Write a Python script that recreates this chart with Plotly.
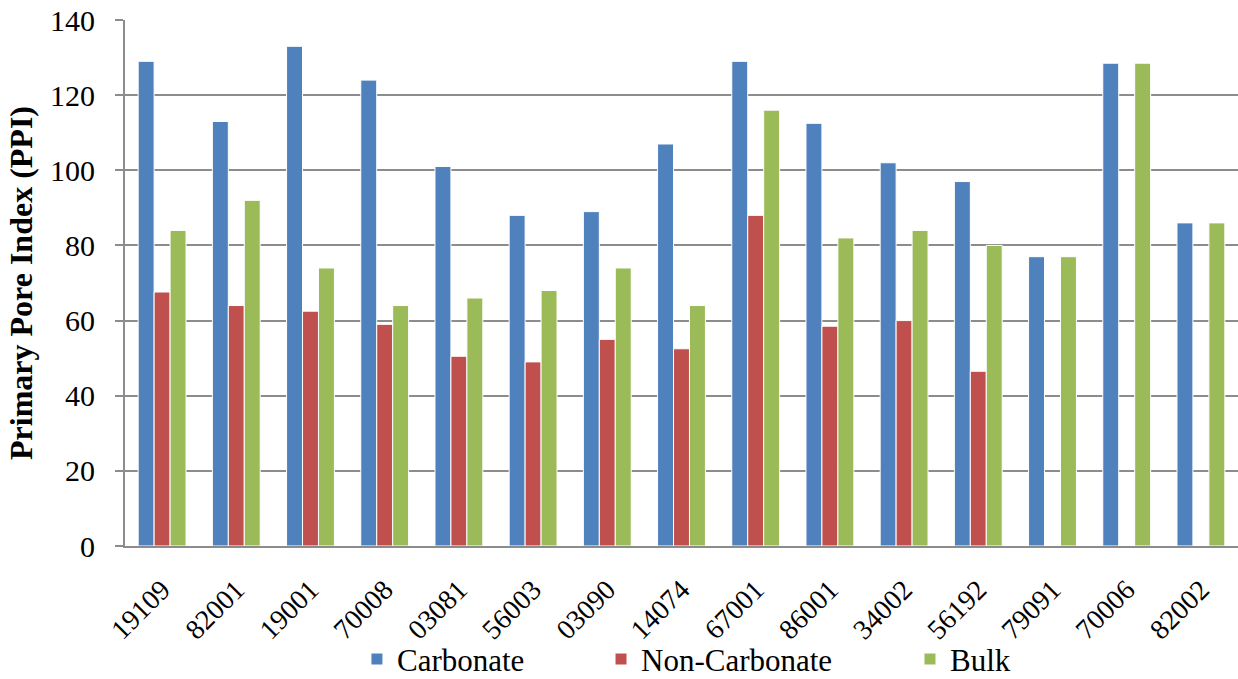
import plotly.graph_objects as go

categories = ["19109", "82001", "19001", "70008", "03081", "56003", "03090", "14074",
              "67001", "86001", "34002", "56192", "79091", "70006", "82002"]
carbonate = [129, 113, 133, 124, 101, 88, 89, 107, 129, 112.5, 102, 97, 77, 128.5, 86]
non_carbonate = [67.6, 64, 62.5, 59, 50.5, 49, 55, 52.5, 88, 58.5, 60, 46.5, 0, 0, 0]
bulk = [84, 92, 74, 64, 66, 68, 74, 64, 116, 82, 84, 80, 77, 128.5, 86]

FONT = "Liberation Serif, Times New Roman, serif"

fig = go.Figure()
fig.add_trace(go.Bar(x=categories, y=carbonate, name="Carbonate",
                     marker=dict(color="#4F81BD", line=dict(color="white", width=1)),
                     legend="legend", showlegend=True))
fig.add_trace(go.Bar(x=categories, y=non_carbonate, name="Non-Carbonate",
                     marker=dict(color="#C0504D", line=dict(color="white", width=1)),
                     legend="legend2", showlegend=True))
fig.add_trace(go.Bar(x=categories, y=bulk, name="Bulk",
                     marker=dict(color="#9BBB59", line=dict(color="white", width=1)),
                     legend="legend3", showlegend=True))

leg_common = dict(orientation="h", yanchor="middle", y=-0.2155, xanchor="left",
                  font=dict(family=FONT, size=31, color="black"),
                  bgcolor="rgba(0,0,0,0)", itemwidth=30)

fig.update_layout(
    width=1238, height=679,
    margin=dict(l=125, r=0, t=20, b=133, autoexpand=False),
    paper_bgcolor="white", plot_bgcolor="white",
    showlegend=True,
    barmode="group", bargap=0.355, bargroupgap=0.0,
    font=dict(family=FONT, color="black"),
    legend=dict(x=0.2084, **leg_common),
    legend2=dict(x=0.4277, **leg_common),
    legend3=dict(x=0.7053, **leg_common),
    xaxis=dict(
        type="category", tickangle=-45, tickfont=dict(family=FONT, size=28, color="black"),
        showline=True, linecolor="#8c8c8c", linewidth=2, ticks="", showgrid=False,
        ticklabelstandoff=14, automargin=False,
    ),
    yaxis=dict(
        range=[0, 140], dtick=20, tick0=0,
        tickfont=dict(family=FONT, size=30, color="black"),
        showgrid=True, gridcolor="#8c8c8c", gridwidth=2,
        showline=True, linecolor="#8c8c8c", linewidth=2,
        ticks="outside", ticklen=8, tickcolor="#8c8c8c", tickwidth=2,
        ticklabelstandoff=14, automargin=False,
        zeroline=False,
        title=dict(text="<b>Primary Pore Index (PPI)</b>",
                   font=dict(family=FONT, size=32, color="black"), standoff=8),
    ),
)

fig.write_html("out.html")
